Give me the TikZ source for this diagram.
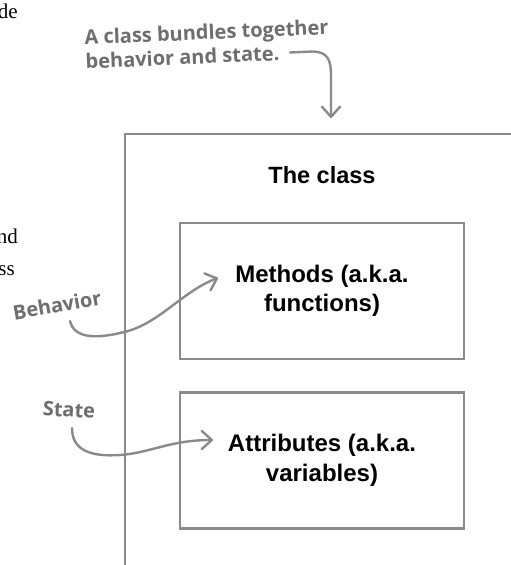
\documentclass[tikz,border=0pt]{standalone}
\usepackage{fontspec}
\setmainfont{Liberation Serif}
\newfontfamily\boxfont{Liberation Sans}
\newfontfamily\handfont{Open Sans}
\usetikzlibrary{arrows.meta}
\definecolor{linegray}{HTML}{8A8A8A}
\definecolor{handgray}{HTML}{6E6E6E}
\begin{document}
\begin{tikzpicture}[x=1pt,y=-1pt,
  boxline/.style={draw=linegray,line width=2.2pt},
  innerbox/.style={boxline,minimum width=284pt,minimum height=136pt,inner sep=0pt,align=center,
    font=\boxfont\bfseries\fontsize{24}{29.5}\selectfont},
  titletext/.style={font=\boxfont\bfseries\fontsize{23.5}{26}\selectfont,inner sep=0pt},
  hand/.style={text=handgray,font=\handfont\bfseries\fontsize{20}{24}\selectfont,inner sep=0pt},
  handarrow/.style={draw=linegray,line width=2.4pt,line cap=round,line join=round,
    -{Straight Barb[length=10pt,width=18pt,round]}},
  pagetext/.style={font=\fontsize{21}{24}\selectfont,text=black,inner sep=0pt,anchor=base east}
]
\useasboundingbox (0,0) rectangle (511,565);
\clip (0,0) rectangle (511,565);
\fill[white] (0,0) rectangle (511,565);

% fragments of page text at the left edge
\node[pagetext] (frag1) at (18,18) {de};
\node[pagetext] (frag2) at (18,243) {nd};
\node[pagetext] (frag3) at (15,275) {ss};

% outer class box (runs off the page to the right and bottom)
\node[boxline,minimum width=500pt,minimum height=500pt,inner sep=0pt,anchor=north west] (classbox) at (124,133) {};
\node[titletext] (title) at (322,175) {The class};

% inner boxes
\node[innerbox] (methods) at (322,291) {Methods (a.k.a.\\functions)};
\node[innerbox] (attrs) at (322,460.5) {Attributes (a.k.a.\\variables)};

% handwritten notes
\node[hand,align=left,rotate=2.5] (note) at (207,44) {A class bundles together\\behavior and state.};
\node[hand,rotate=10] (behavior) at (57,305) {Behavior};
\node[hand,rotate=-3] (state) at (69,410) {State};

% connector end points
\coordinate (notestart) at (290,52.5);
\coordinate (classtop) at (331,118);
\coordinate (bstart) at (70,321);
\coordinate (btip) at (218,278);
\coordinate (sstart) at (72,428);
\coordinate (stip) at (213,440);

% arrows
\draw[handarrow] (notestart) -- (313,51.5) .. controls (328,52) and (331,60) .. (331,76) -- (classtop);
\draw[handarrow] (bstart) .. controls (74,338) and (95,340) .. (128,331) .. controls (160,322) and (185,290) .. (btip);
\draw[handarrow] (sstart) .. controls (72,450) and (90,457) .. (120,455) .. controls (150,453) and (170,440) .. (stip);
\end{tikzpicture}
\end{document}
